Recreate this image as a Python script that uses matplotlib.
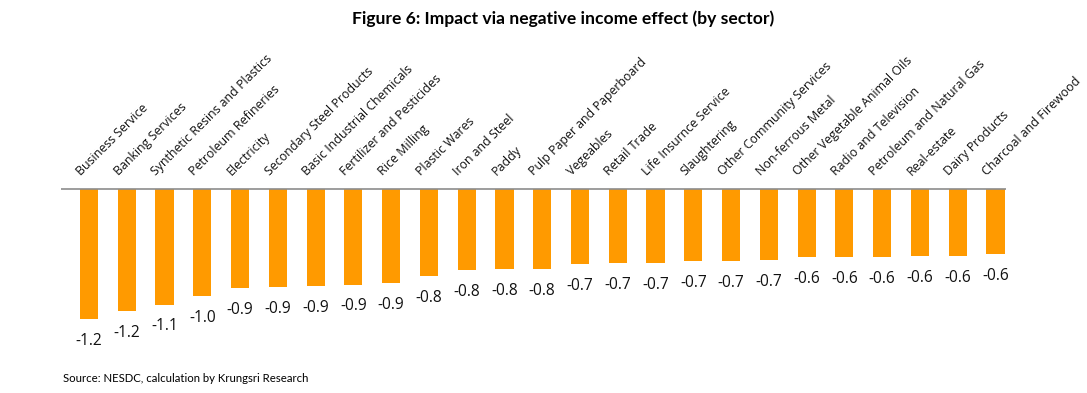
import numpy as np
import matplotlib
matplotlib.use('Agg')
import matplotlib.pyplot as plt

# sectors and impact values
sectors = [
    'Business Service', 'Banking Services', 'Synthetic Resins and Plastics',
    'Petroleum Refineries', 'Electricity', 'Secondary Steel Products',
    'Basic Industrial Chemicals', 'Fertilizer and Pesticides', 'Rice Milling',
    'Plastic Wares', 'Iron and Steel', 'Paddy', 'Pulp Paper and Paperboard',
    'Vegeables', 'Retail Trade', 'Life Insurnce Service', 'Slaughtering',
    'Other Community Services', 'Non-ferrous Metal', 'Other Vegetable Animal Oils',
    'Radio and Television', 'Petroleum and Natural Gas', 'Real-estate',
    'Dairy Products', 'Charcoal and Firewood',
]
impact = [
    -1.24, -1.16, -1.10, -1.02, -0.945, -0.935, -0.925, -0.91, -0.895,
    -0.83, -0.77, -0.762, -0.762, -0.714, -0.705, -0.705, -0.686, -0.686,
    -0.676, -0.648, -0.648, -0.648, -0.638, -0.638, -0.619,
]

W, H = 1087, 393
fig = plt.figure(figsize=(W / 100, H / 100), dpi=100)
ax = fig.add_axes([0, 0, 1, 1])

# pixel layout: first bar centre at x=89, step 37.77px, zero line at y=189, 105px per unit
step = 37.77
x0 = 89
ppu = 105.0
ax.set_xlim(-x0 / step, (W - x0) / step)
ax.set_ylim(-(H - 189) / ppu, 189 / ppu)
ax.axis('off')

x = np.arange(len(sectors))
ax.bar(x, impact, width=0.48, color='#FF9A00', zorder=2)
ax.hlines(0, -0.74, len(sectors) - 1 + 0.28, color='#8C8C8C', lw=1.2, zorder=3)

for i, (name, v) in enumerate(zip(sectors, impact)):
    ax.annotate(f'{v:.1f}', xy=(i, v), xytext=(0, -15.8), textcoords='offset points',
                ha='center', va='center', fontsize=11.2, family='Open Sans', color='#111111')
    ax.annotate(name, xy=(i, 0), xytext=(-6.0, 9.4), textcoords='offset points',
                ha='left', va='baseline', rotation=45, rotation_mode='anchor',
                fontsize=8.9, family='Open Sans', color='#111111')

fig.text(563.5 / W, 1 - 18.5 / H, 'Figure 6: Impact via negative income effect (by sector)',
         ha='center', va='center', fontsize=12.6, fontweight='bold', family='Lato')
fig.text(63 / W, 1 - 378 / H, 'Source: NESDC, calculation by Krungsri Research',
         ha='left', va='center', fontsize=8.2, family='Lato')

fig.savefig('out.png', dpi=100)
